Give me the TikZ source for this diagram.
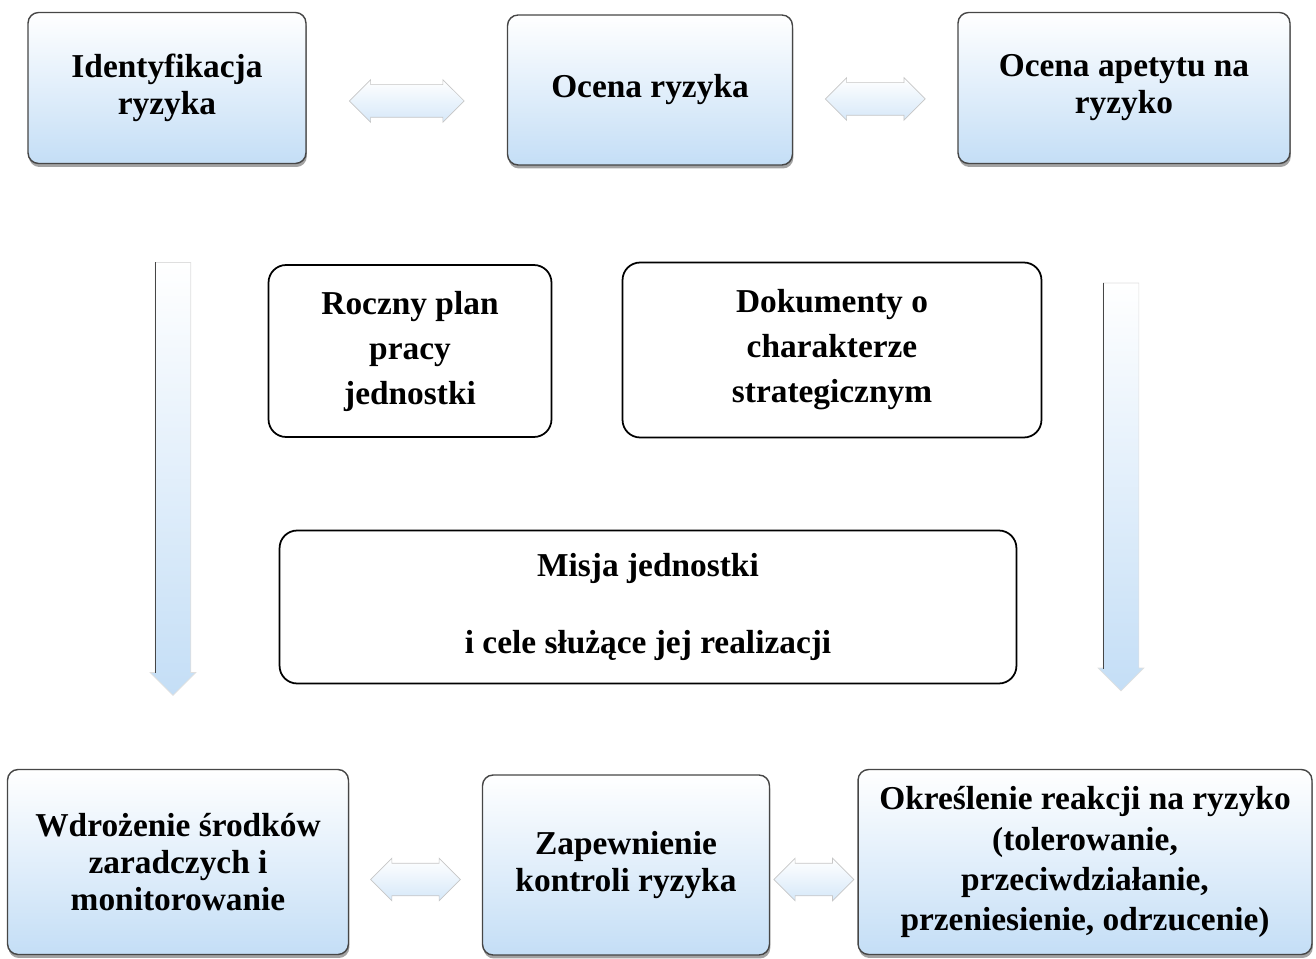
\documentclass[tikz,border=0pt]{standalone}
\usepackage{fontspec}
\setmainfont{Liberation Serif}
\usetikzlibrary{positioning, calc, shapes.arrows, shadows}

\definecolor{paleblue}{RGB}{196,222,246}
\definecolor{edgegray}{RGB}{70,70,70}

\begin{document}
\begin{tikzpicture}[
  x=0.02cm, y=-0.02cm,
  stage/.style={rectangle, draw=edgegray, line width=0.8pt, rounded corners=6pt, top color=white, bottom color=paleblue, align=center, font=\fontsize{19}{21}\selectfont\bfseries, drop shadow={shadow xshift=0.5pt, shadow yshift=-2pt, opacity=0.6, fill=black!60}, inner sep=2pt},
  source/.style={rectangle, draw=black, line width=1pt, rounded corners=10pt, fill=white, align=center, font=\fontsize{19}{25.6}\selectfont\bfseries},
  hlink/.style={double arrow, draw=gray!45, top color=white, bottom color=paleblue!70, double arrow head extend=0.1cm, inner xsep=0pt, inner ysep=0.32cm},
  vlink/.style={single arrow, shape border rotate=270, draw=gray!25, top color=white, bottom color=paleblue, single arrow head extend=0.1cm, inner sep=0.35cm}
]
\useasboundingbox (0,0) rectangle (1316,959);

% top row
\node[stage, minimum width=5.56cm, minimum height=3.02cm] (ident) at (167,88) {Identyfikacja\\ryzyka};
\node[stage, minimum width=5.7cm, minimum height=3.0cm] (ocena) at (650,90) {Ocena ryzyka};
\node[stage, minimum width=6.64cm, minimum height=3.02cm] (apetyt) at (1124,88) {Ocena apetytu na\\ryzyko};

% middle
\node[source, minimum width=5.66cm, minimum height=3.44cm] (plan) at (410,351) {Roczny plan\\pracy\\jednostki};
\node[source, minimum width=8.38cm, minimum height=3.5cm] (dokumenty) at (832,350) {Dokumenty o\\charakterze\\strategicznym};
\node[source, minimum width=14.74cm, minimum height=3.06cm] (misja) at (648,607) {Misja jednostki\\[18pt]i cele służące jej realizacji};

% bottom row
\node[stage, minimum width=6.82cm, minimum height=3.7cm] (wdrozenie) at (178,862) {Wdrożenie środków\\zaradczych i\\monitorowanie};
\node[stage, minimum width=5.74cm, minimum height=3.6cm] (kontrola) at (626,865) {Zapewnienie\\kontroli ryzyka};
\node[stage, minimum width=9.08cm, minimum height=3.7cm, font=\fontsize{19}{22.8}\selectfont\bfseries] (reakcja) at (1085,862) {Określenie reakcji na ryzyko\\(tolerowanie,\\przeciwdziałanie,\\przeniesienie, odrzucenie)};

% links between stages
\node[hlink, minimum height=2.3cm] (l1) at ($(ident.east)!0.5!(ocena.west)+(0,12)$) {};
\node[hlink, minimum height=2.0cm] (l2) at ($(ocena.east)!0.5!(apetyt.west)+(0,10)$) {};
\node[hlink, minimum height=1.8cm] (l3) at ($(wdrozenie.east)!0.5!(kontrola.west)+(0,16)$) {};
\node[hlink, minimum height=1.6cm] (l4) at ($(kontrola.east)!0.5!(reakcja.west)+(0,16)$) {};

\node[vlink, minimum height=8.66cm] (downL) at (173,470) {};
\node[vlink, minimum height=8.16cm] (downR) at (1121,478) {};
\draw[edgegray, line width=1pt] ([xshift=-0.35cm]downL.tail) -- ([xshift=-0.35cm, yshift=0.45cm]downL.tip);
\draw[edgegray, line width=1pt] ([xshift=-0.35cm]downR.tail) -- ([xshift=-0.35cm, yshift=0.45cm]downR.tip);
\end{tikzpicture}
\end{document}
